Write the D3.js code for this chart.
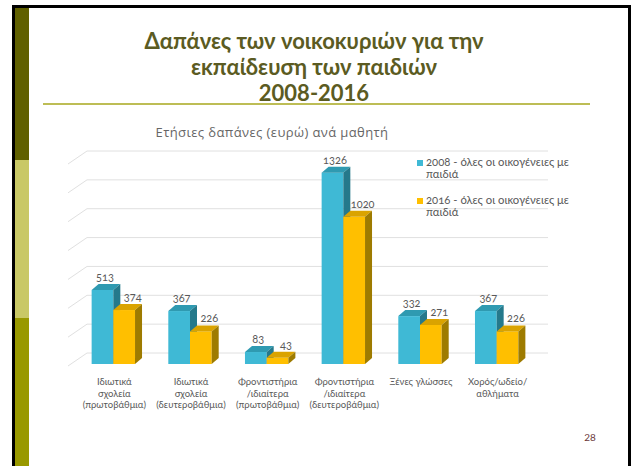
<!DOCTYPE html>
<html>
<head>
<meta charset="utf-8">
<script src="https://cdn.jsdelivr.net/npm/d3@7/dist/d3.min.js"></script>
<style>
  html, body { margin: 0; padding: 0; background: #ffffff; }
  svg { display: block; }
  text { font-family: Lato, "Open Sans", "Noto Sans", sans-serif; }
</style>
</head>
<body>
<svg id="chart" width="631" height="466"></svg>
<script>
// ---------- data ----------
const titleLines = ["Δαπάνες των νοικοκυριών για την", "εκπαίδευση των παιδιών", "2008-2016"];
const subtitle = "Ετήσιες δαπάνες (ευρώ) ανά μαθητή";
const categories = [
  "Ιδιωτικά|σχολεία|(πρωτοβάθμια)",
  "Ιδιωτικά|σχολεία|(δευτεροβάθμια)",
  "Φροντιστήρια|/ιδιαίτερα|(πρωτοβάθμια)",
  "Φροντιστήρια|/ιδιαίτερα|(δευτεροβάθμια)",
  "Ξένες γλώσσες",
  "Χορός/ωδείο/|αθλήματα"
];
const seriesNames = ["2008 - όλες οι οικογένειες με|παιδιά", "2016 - όλες οι οικογένειες με|παιδιά"];
const values2008 = [513, 367, 83, 1326, 332, 367];
const values2016 = [374, 226, 43, 1020, 271, 226];
const yTicks = [0, 200, 400, 600, 800, 1000, 1200, 1400];
const pageNumber = "28";

// ---------- styles ----------
const colors = [
  { front: "#3fb9d5", top: "#2f9ab1", side: "#25798b", labelShift: -1 },
  { front: "#ffbf00", top: "#daa300", side: "#9e7b00", labelShift: 5 }
];
const series = [values2008, values2016];

const svg = d3.select("#chart");

// ---------- slide frame ----------
svg.append("rect").attr("x", 0).attr("y", 0).attr("width", 631).attr("height", 466).attr("fill", "#ffffff");
svg.append("rect").attr("x", 12).attr("y", 5).attr("width", 619).attr("height", 3).attr("fill", "#000");
svg.append("rect").attr("x", 628).attr("y", 5).attr("width", 3).attr("height", 461).attr("fill", "#000");
svg.append("rect").attr("x", 12).attr("y", 5).attr("width", 3).attr("height", 461).attr("fill", "#000");
svg.append("rect").attr("x", 15).attr("y", 8).attr("width", 14).attr("height", 152).attr("fill", "#606000");
svg.append("rect").attr("x", 15).attr("y", 160).attr("width", 14).attr("height", 158).attr("fill", "#c9c866");
svg.append("rect").attr("x", 15).attr("y", 318).attr("width", 14).attr("height", 148).attr("fill", "#999900");

// ---------- title ----------
const title = svg.append("text")
  .attr("text-anchor", "middle")
  .attr("font-size", 22).attr("font-weight", "bold").attr("fill", "#5b5b22");
titleLines.forEach((t, i) => {
  title.append("tspan").attr("x", 314).attr("y", 49 + i * 26).text(t);
});
svg.append("rect").attr("x", 43).attr("y", 103).attr("width", 547).attr("height", 2).attr("fill", "#bdbd55");

// ---------- chart ----------
svg.append("text").attr("x", 272).attr("y", 137).attr("text-anchor", "middle")
  .style("font-family", "'Open Sans', sans-serif").style("letter-spacing", "0.4px")
  .attr("font-size", 13).attr("fill", "#666666").text(subtitle);

const x = d3.scaleBand().domain(categories).range([75, 535]).paddingInner(0.434).paddingOuter(0.217);
const xs = d3.scaleBand().domain([0, 1]).range([0, x.bandwidth()]);
const y = d3.scaleLinear().domain([0, 1400]).range([364, 162]);

const wallLeft = 87, wallRight = 548, wallDy = 11, sideDx = 19;
svg.append("g").selectAll("path").data(yTicks).join("path")
  .attr("d", t => `M${wallLeft - sideDx},${y(t) + 2}L${wallLeft},${y(t) - wallDy}L${wallRight},${y(t) - wallDy}`)
  .attr("fill", "none").attr("stroke", "#e0e0e0").attr("stroke-width", 1);

const dx = 7, dy = 6;
const bars = svg.append("g");
categories.forEach((c, ci) => {
  series.forEach((vals, si) => {
    const v = vals[ci];
    const x0 = x(c) + xs(si), w = xs.bandwidth();
    const yv = y(v), y0 = y(0);
    const col = colors[si];
    const g = bars.append("g");
    g.append("rect").attr("x", x0).attr("y", yv).attr("width", w).attr("height", y0 - yv).attr("fill", col.front);
    g.append("path").attr("d", `M${x0},${yv}L${x0 + dx},${yv - dy}L${x0 + w + dx},${yv - dy}L${x0 + w},${yv}Z`).attr("fill", col.top);
    g.append("path").attr("d", `M${x0 + w},${yv}L${x0 + w + dx},${yv - dy}L${x0 + w + dx},${y0 - dy}L${x0 + w},${y0}Z`).attr("fill", col.side);
  });
});
// value labels
categories.forEach((c, ci) => {
  series.forEach((vals, si) => {
    const v = vals[ci];
    const x0 = x(c) + xs(si), w = xs.bandwidth();
    svg.append("text")
      .attr("x", x0 + w / 2 + dx / 2 + colors[si].labelShift).attr("y", y(v) - dy - 3)
      .attr("text-anchor", "middle").attr("font-size", 11).attr("fill", "#595959")
      .style("font-variant-numeric", "oldstyle-nums")
      .text(v);
  });
});

// category labels
categories.forEach(c => {
  const t = svg.append("text").attr("text-anchor", "middle").attr("font-size", 9.5).attr("fill", "#595959");
  c.split("|").forEach((line, i) => {
    t.append("tspan").attr("x", x(c) + x.bandwidth() / 2 + 1).attr("y", 385 + i * 11.5).text(line);
  });
});

// legend
seriesNames.forEach((s, i) => {
  const ly = 166 + i * 38;
  svg.append("rect").attr("x", 417).attr("y", ly - 6).attr("width", 6).attr("height", 6).attr("fill", colors[i].front);
  const t = svg.append("text").attr("font-size", 11.3).attr("fill", "#595959").style("font-variant-numeric", "oldstyle-nums");
  s.split("|").forEach((line, j) => {
    t.append("tspan").attr("x", 426).attr("y", ly + j * 11.5).text(line);
  });
});

// page number
svg.append("text").attr("x", 590).attr("y", 441).attr("text-anchor", "middle")
  .attr("font-size", 10).attr("fill", "#6b3a3a").text(pageNumber);
</script>
</body>
</html>
